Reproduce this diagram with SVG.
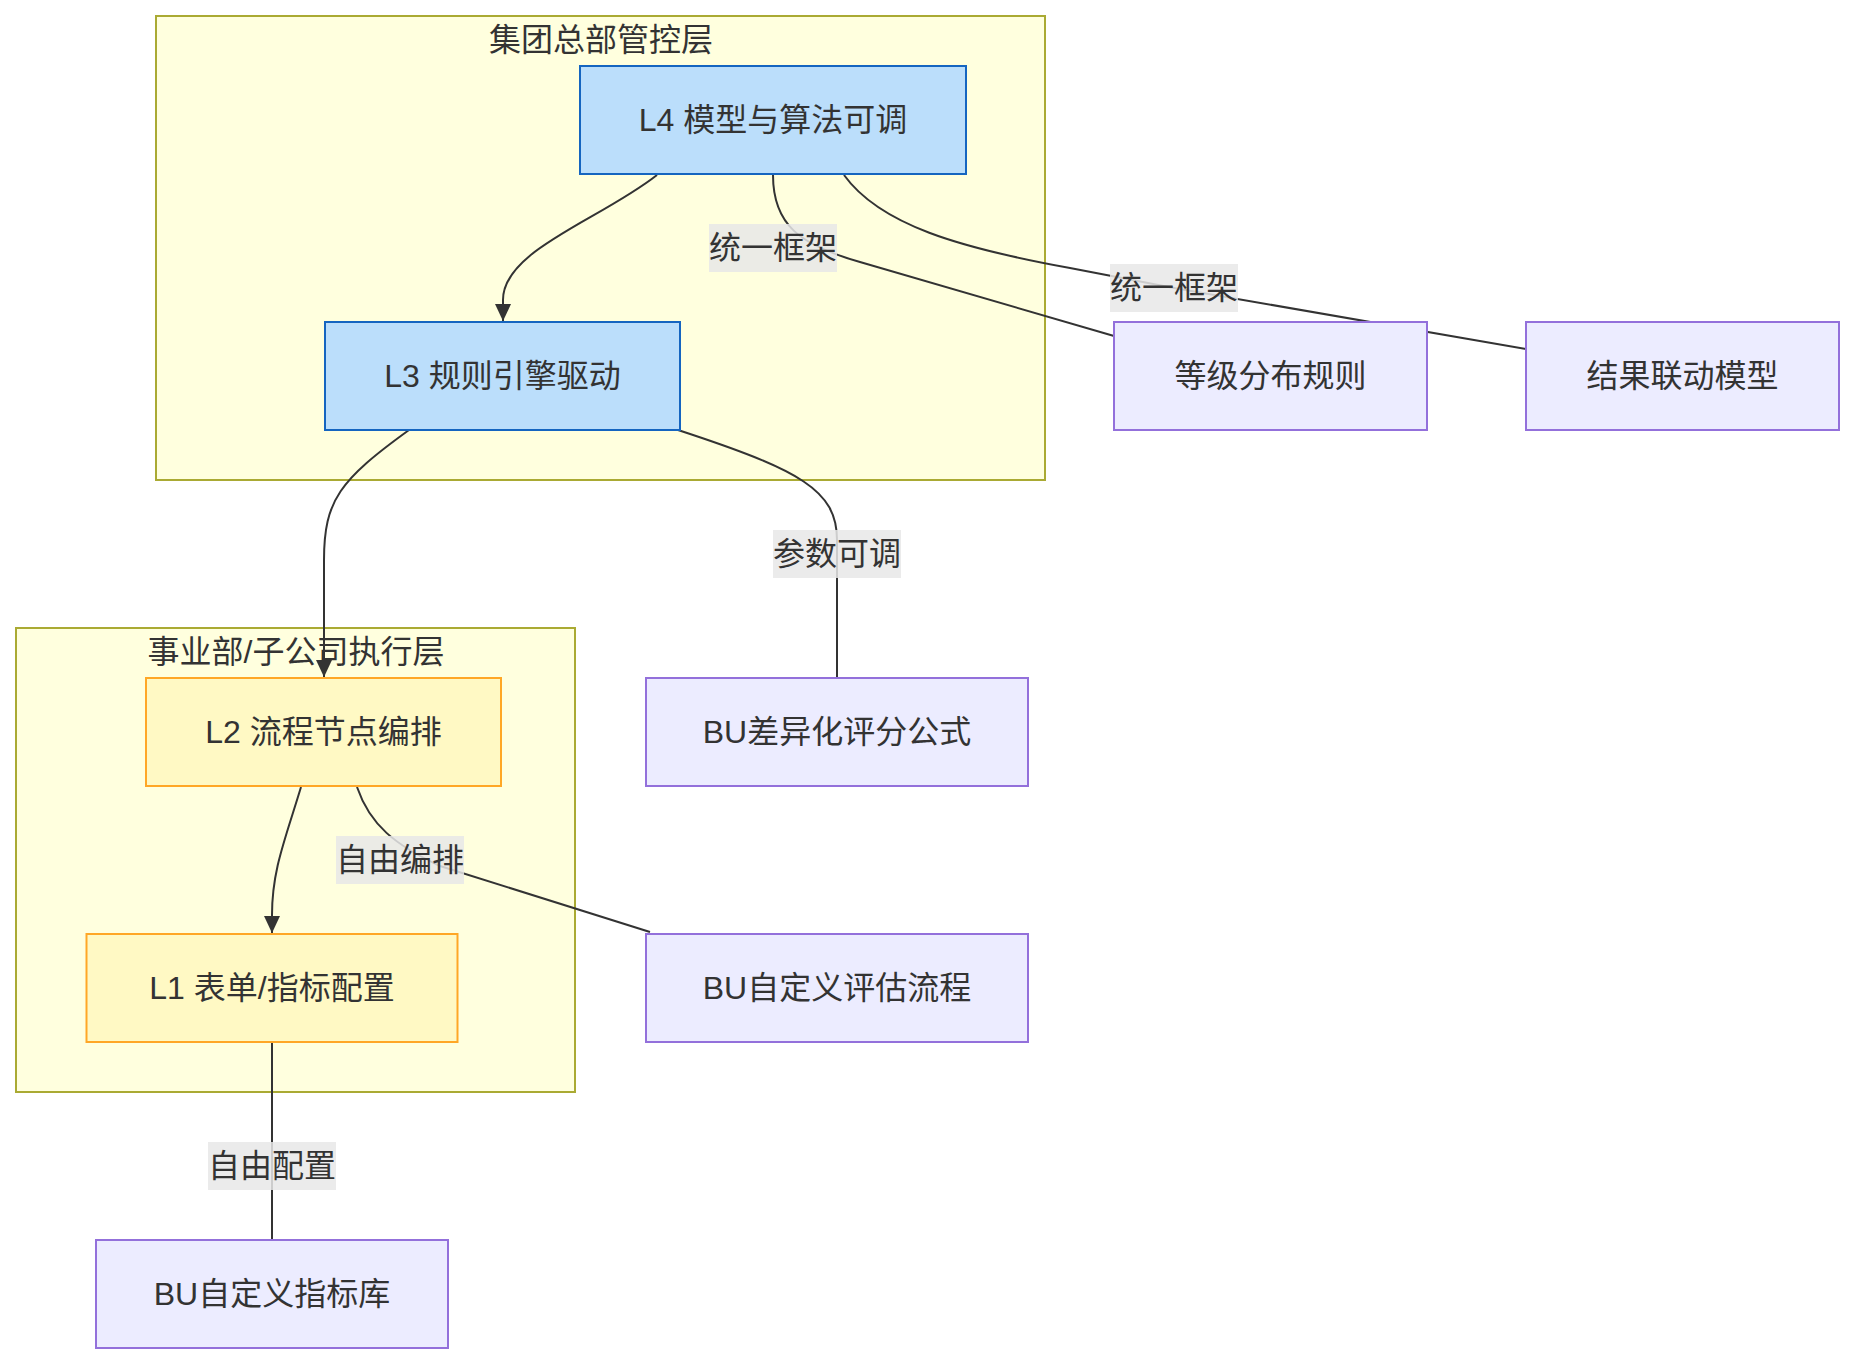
<svg xmlns="http://www.w3.org/2000/svg" width="1854" height="1364" viewBox="0 0 1854 1364">
<style>
text{font-family:"Liberation Sans","Noto Sans CJK SC",sans-serif;font-size:32px;fill:#333;text-anchor:middle;dominant-baseline:central}
.cluster{fill:#ffffde;stroke:#aaaa33;stroke-width:2}
.blue{fill:#bbdefb;stroke:#1565c0;stroke-width:2}
.yellow{fill:#fff9c4;stroke:#ffa726;stroke-width:2}
.plain{fill:#ececff;stroke:#9370db;stroke-width:2}
.edge{fill:none;stroke:#333;stroke-width:2}
.lbl{fill:#e8e8e8;fill-opacity:0.85}
</style>
<defs>
<marker id="arrow" markerUnits="userSpaceOnUse" markerWidth="18" markerHeight="18" viewBox="0 0 18 18" refX="17" refY="9" orient="auto">
<path d="M0,1 L17,9 L0,17 Z" fill="#333"/>
</marker>
</defs>
<rect width="1854" height="1364" fill="#fff"/>
<g id="cluster-hq">
<rect class="cluster" x="156" y="16" width="889" height="464"/>
<text x="601" y="40">集团总部管控层</text>
</g>
<g id="cluster-bu">
<rect class="cluster" x="16" y="628" width="559" height="464"/>
<text x="296" y="652">事业部/子公司执行层</text>
</g>
<g id="edges">
<path class="edge" d="M657,175 C600,220 503,250 503,300 L503,321" marker-end="url(#arrow)"/>
<path class="edge" d="M773,175 C773,225 800,245 860,262 L1114,336"/>
<path class="edge" d="M844,175 C880,225 960,248 1070,268 L1174,288 L1526,349"/>
<path class="edge" d="M409,430 C340,480 324,500 324,560 L324,677" marker-end="url(#arrow)"/>
<path class="edge" d="M678,430 C800,470 837,490 837,540 L837,678"/>
<path class="edge" d="M301,787 C285,840 272,870 272,915 L272,933" marker-end="url(#arrow)"/>
<path class="edge" d="M357,787 C370,825 395,845 440,866 L650,932"/>
<path class="edge" d="M272,1042 L272,1240"/>
</g>
<g id="edge-labels">
<rect class="lbl" x="709" y="224" width="128" height="48"/>
<text x="773" y="248">统一框架</text>
<rect class="lbl" x="1110" y="264" width="128" height="48"/>
<text x="1174" y="288">统一框架</text>
<rect class="lbl" x="773" y="530" width="128" height="48"/>
<text x="837" y="554">参数可调</text>
<rect class="lbl" x="336" y="836" width="128" height="48"/>
<text x="400" y="860">自由编排</text>
<rect class="lbl" x="208" y="1142" width="128" height="48"/>
<text x="272" y="1166">自由配置</text>
</g>
<g id="node-L4">
<rect class="blue" x="580" y="66" width="386" height="108"/>
<text x="773" y="120">L4 模型与算法可调</text>
</g>
<g id="node-L3">
<rect class="blue" x="325" y="322" width="355" height="108"/>
<text x="502.5" y="376">L3 规则引擎驱动</text>
</g>
<g id="node-grade">
<rect class="plain" x="1114" y="322" width="313" height="108"/>
<text x="1270.5" y="376">等级分布规则</text>
</g>
<g id="node-result">
<rect class="plain" x="1526" y="322" width="313" height="108"/>
<text x="1682.5" y="376">结果联动模型</text>
</g>
<g id="node-L2">
<rect class="yellow" x="146" y="678" width="355" height="108"/>
<text x="323.5" y="732">L2 流程节点编排</text>
</g>
<g id="node-L1">
<rect class="yellow" x="86.5" y="934" width="371" height="108"/>
<text x="272" y="988">L1 表单/指标配置</text>
</g>
<g id="node-formula">
<rect class="plain" x="646" y="678" width="382" height="108"/>
<text x="837" y="732">BU差异化评分公式</text>
</g>
<g id="node-flow">
<rect class="plain" x="646" y="934" width="382" height="108"/>
<text x="837" y="988">BU自定义评估流程</text>
</g>
<g id="node-lib">
<rect class="plain" x="96" y="1240" width="352" height="108"/>
<text x="272" y="1294">BU自定义指标库</text>
</g>
</svg>
